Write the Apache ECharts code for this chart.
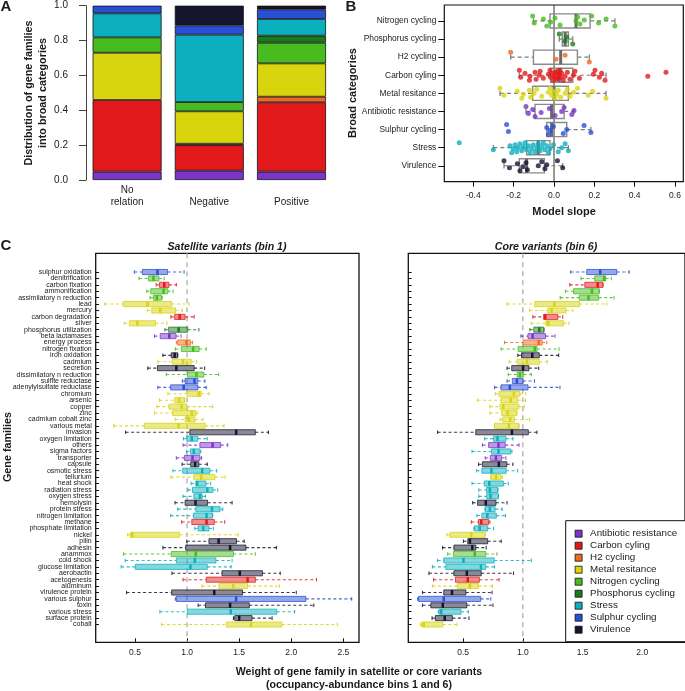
<!DOCTYPE html>
<html><head><meta charset="utf-8">
<script src="https://cdn.jsdelivr.net/npm/echarts@6/dist/echarts.min.js"></script>
<style>html,body{margin:0;padding:0;background:#fff}#c{width:685px;height:691px}</style>
</head><body><div id="c"></div>
<script>
const FONT = '"Liberation Sans", Arial, Helvetica, sans-serif';

// ---------- shared categories ----------
const broadCats = ['Antibiotic resistance','Carbon cyling','H2 cycling','Metal resitance','Nitrogen cycling','Phosphorus cycling','Stress','Sulphur cycling','Virulence'];
const catColors = ['#7B35C9','#E2191B','#EE6A1E','#D8D40E','#47BB1F','#1C7A1C','#0BAFBE','#2B4FD4','#16152F'];

// ---------- Panel A ----------
const relationCats = ['No\nrelation','\nNegative','\nPositive'];
const shareAntibiotic = [0.048,0.054,0.048];
const shareCarbon     = [0.411,0.146,0.398];
const shareH2         = [null,0.008,0.032];
const shareMetal      = [0.271,0.186,0.191];
const shareNitrogen   = [0.088,0.053,0.119];
const sharePhosphorus = [null,null,0.040];
const shareStress     = [0.138,0.387,0.096];
const shareSulphur    = [0.044,0.053,0.055];
const shareVirulence  = [null,0.113,0.021];
const shareSeries = [shareAntibiotic,shareCarbon,shareH2,shareMetal,shareNitrogen,sharePhosphorus,shareStress,shareSulphur,shareVirulence];

// ---------- Panel B ----------
const slopeCats = ['Nitrogen cycling','Phosphorus cycling','H2 cycling','Carbon cyling','Metal resitance','Antibiotic resistance','Sulphur cycling','Stress','Virulence'];
const slopeCatColorIdx = [4,5,2,1,3,0,7,6,8];
const slopeLow  = [-0.102,0.026,-0.215,-0.172,-0.268,-0.139,-0.036,-0.301,-0.248];
const slopeQ1   = [-0.020,0.041,-0.102,-0.017,-0.106,-0.094,-0.036,-0.136,-0.172];
const slopeMed  = [0.109,0.055,0.033,0.026,0.000,-0.012,-0.012,-0.078,-0.136];
const slopeQ3   = [0.179,0.071,0.116,0.093,0.071,0.050,0.063,-0.020,-0.048];
const slopeHigh = [0.302,0.093,0.175,0.258,0.258,0.099,0.183,0.071,0.043];
const slopesNitrogen = [-0.106,-0.098,-0.053,-0.036,-0.017,0.005,0.030,0.109,0.117,0.129,0.150,0.187,0.221,0.258,0.302];
const slopesPhosphorus = [0.026,0.055,0.063,0.093];
const slopesH2 = [-0.215,0.010,0.055,0.175];
const slopesCarbon = [-0.172,-0.165,-0.144,-0.122,-0.119,-0.094,-0.089,-0.073,-0.069,-0.053,-0.028,-0.020,-0.017,-0.012,-0.003,0.000,0.005,0.010,0.013,0.017,0.021,0.026,0.030,0.033,0.038,0.046,0.055,0.066,0.079,0.096,0.104,0.126,0.195,0.203,0.225,0.236,0.253,0.465,0.555];
const slopesMetal = [-0.268,-0.248,-0.182,-0.160,-0.152,-0.122,-0.116,-0.099,-0.086,-0.061,-0.028,-0.020,-0.012,-0.003,0.005,0.013,0.021,0.033,0.055,0.066,0.079,0.096,0.116,0.170,0.192,0.258];
const slopesAntibiotic = [-0.139,-0.127,-0.106,-0.094,-0.064,-0.023,0.005,0.038,0.050,0.088,0.099];
const slopesSulphur = [-0.235,-0.226,-0.036,-0.028,-0.020,-0.003,0.046,0.063,0.149,0.183];
const slopesStress = [-0.470,-0.301,-0.218,-0.210,-0.202,-0.193,-0.185,-0.177,-0.169,-0.160,-0.152,-0.144,-0.136,-0.127,-0.119,-0.111,-0.103,-0.094,-0.086,-0.078,-0.069,-0.061,-0.053,-0.045,-0.036,-0.028,-0.020,-0.003,0.021,0.038,0.055,0.071];
const slopesVirulence = [-0.248,-0.221,-0.182,-0.169,-0.155,-0.139,-0.132,-0.078,-0.061,-0.045,-0.036,0.017,0.043];
const slopePoints = [slopesNitrogen,slopesPhosphorus,slopesH2,slopesCarbon,slopesMetal,slopesAntibiotic,slopesSulphur,slopesStress,slopesVirulence];
const slopeTicks = [-0.4,-0.2,0,0.2,0.4,0.6];

// ---------- Panel C ----------
const geneFamilies = ['sulphur oxidation','denitrification','carbon fixation','ammonification','assimilatory n reduction','lead','mercury','carbon degradation','silver','phosphorus utilization','beta lactamases','energy process','nitrogen fixation','iron oxidation','cadmium','secretion','dissimilatory n reduction','sulfite reductase','adenylylsulfate reductase','chromium','arsenic','copper','zinc','cadmium cobalt zinc','various metal','invasion','oxygen limitation','others','sigma factors','transporter','capsule','osmotic stress','tellurium','heat shock','radiation stress','oxygen stress','hemolysin','protein stress','nitrogen limitation','methane','phosphate limitation','nickel','pilin','adhesin','anammox','cold shock','glucose limitation','aerobactin','acetogenesis','aluminum','virulence protein','various sulphur','toxin','various stress','surface protein','cobalt'];
const geneCategory = [7,4,1,4,4,3,3,1,3,5,0,2,4,8,3,8,4,7,7,3,3,3,3,3,3,8,6,0,6,0,8,6,3,6,6,6,8,6,6,1,6,3,8,8,4,6,6,8,1,3,8,7,8,6,8,3];
const satLow  = [0.494,0.539,0.703,0.613,0.645,0.210,0.619,0.845,0.397,0.787,0.687,0.897,0.887,0.768,0.719,0.623,0.800,0.955,0.719,0.816,0.735,0.710,0.687,0.887,0.297,0.410,0.965,0.961,0.994,0.897,0.952,0.865,0.845,1.039,1.010,0.961,0.884,0.910,0.842,0.948,1.074,0.429,0.997,0.768,0.390,0.406,0.368,0.855,0.961,1.142,0.419,0.887,1.106,0.739,1.445,0.755];
const satQ1   = [0.571,0.629,0.735,0.652,0.677,0.387,0.661,0.881,0.445,0.823,0.742,0.910,0.945,0.848,0.858,0.716,1.003,0.981,0.842,1.000,0.881,0.826,0.861,0.981,0.590,1.026,0.997,1.123,1.032,0.974,1.035,0.958,1.065,1.084,1.052,1.065,0.981,1.084,1.061,1.045,1.106,0.455,1.210,0.987,0.848,0.897,0.503,1.335,1.184,1.306,0.852,0.897,1.177,1.003,1.458,1.377];
const satMed  = [0.716,0.677,0.781,0.774,0.710,0.619,0.742,0.929,0.523,0.919,0.829,0.994,1.058,0.881,0.961,0.897,1.090,1.071,0.968,1.113,0.923,0.948,1.045,1.019,0.919,1.471,1.045,1.245,1.065,1.052,1.077,1.145,1.135,1.097,1.194,1.123,1.081,1.239,1.187,1.187,1.155,0.474,1.303,1.413,1.084,1.074,1.032,1.506,1.581,1.442,1.261,1.471,1.413,1.419,1.500,1.613];
const satQ3   = [0.813,0.729,0.826,0.816,0.755,0.852,0.890,0.981,0.697,1.006,0.894,1.032,1.116,0.910,1.039,1.068,1.161,1.103,1.103,1.135,0.977,1.000,1.084,1.077,1.174,1.655,1.103,1.323,1.123,1.123,1.113,1.219,1.268,1.181,1.248,1.145,1.197,1.316,1.245,1.261,1.210,0.929,1.474,1.565,1.445,1.277,1.194,1.723,1.655,1.581,1.532,2.140,1.597,1.861,1.623,1.910];
const satHigh = [0.971,0.781,0.897,0.865,0.761,1.019,0.955,1.068,0.806,1.113,0.942,1.052,1.184,0.910,1.090,1.168,1.303,1.171,1.184,1.210,0.977,1.245,1.097,1.152,1.355,1.781,1.194,1.390,1.132,1.139,1.194,1.284,1.365,1.226,1.294,1.177,1.432,1.342,1.245,1.361,1.252,1.490,1.548,1.858,1.655,1.432,1.423,1.894,2.242,1.887,2.048,2.580,2.216,2.032,1.816,2.442];
const coreLow  = [1.401,1.488,1.393,1.357,1.313,0.868,1.056,1.084,1.071,1.059,0.984,0.847,0.819,0.958,0.886,0.868,0.878,0.868,0.763,0.770,0.621,0.724,0.724,0.809,0.763,0.286,0.680,0.662,0.575,0.685,0.629,0.613,0.732,0.575,0.631,0.631,0.580,0.685,0.616,0.569,0.590,0.364,0.503,0.328,0.371,0.286,0.243,0.214,0.253,0.243,0.160,0.119,0.160,0.292,0.240,0.142];
const coreQ1   = [1.535,1.602,1.519,1.424,1.473,1.100,1.208,1.174,1.192,1.092,1.043,1.002,0.961,0.989,0.953,0.907,0.953,0.912,0.817,0.801,0.817,0.809,0.822,0.832,0.763,0.606,0.755,0.714,0.737,0.727,0.662,0.657,0.732,0.678,0.696,0.698,0.621,0.685,0.657,0.629,0.595,0.389,0.539,0.423,0.418,0.338,0.356,0.423,0.436,0.451,0.338,0.127,0.230,0.299,0.268,0.153];
const coreMed  = [1.648,1.681,1.627,1.579,1.550,1.264,1.241,1.187,1.213,1.138,1.082,1.133,1.100,1.079,1.035,1.002,0.976,0.950,0.891,0.925,0.899,0.837,0.873,0.894,0.884,0.909,0.788,0.796,0.796,0.775,0.799,0.737,0.775,0.719,0.724,0.729,0.690,0.724,0.703,0.652,0.639,0.569,0.557,0.577,0.598,0.503,0.649,0.531,0.539,0.557,0.407,0.338,0.330,0.317,0.346,0.171];
const coreQ3   = [1.787,1.694,1.671,1.640,1.635,1.476,1.362,1.293,1.342,1.177,1.190,1.162,1.120,1.138,1.138,1.051,1.007,1.002,1.043,0.976,0.958,0.966,0.950,0.930,0.968,1.046,0.858,0.853,0.899,0.822,0.866,0.860,0.817,0.837,0.791,0.796,0.775,0.768,0.778,0.714,0.706,0.685,0.706,0.606,0.690,0.760,0.690,0.652,0.636,0.629,0.523,0.647,0.531,0.482,0.410,0.330];
const coreHigh = [1.890,1.741,1.671,1.640,1.764,1.702,1.419,1.334,1.385,1.177,1.270,1.200,1.303,1.300,1.205,1.133,1.071,1.097,1.311,1.025,1.023,1.012,0.950,1.056,0.968,1.118,0.917,0.968,0.909,0.858,0.917,0.956,0.829,0.878,0.791,0.796,0.868,0.827,0.855,0.724,0.755,0.685,0.819,0.693,0.783,1.071,0.763,0.922,0.801,0.745,0.742,0.732,0.750,0.544,0.549,0.449];
const satTicks = [0.5,1.0,1.5,2.0,2.5];
const coreTicks = [0.5,1.0,1.5,2.0];

// ---------- build ----------
const rowIdx = geneFamilies.map((_, i) => i);
const rowEven = rowIdx.filter(i => i % 2 === 0);
const rowOdd = rowIdx.filter(i => i % 2 === 1);
const slopeIdx = slopeCats.map((_, i) => i);

function jitter(i) { return (((i * 7) % 11) / 10 - 0.5) * 0.55; }

function geneBoxRender(params, api) {
  const row = api.value(0);
  const col = catColors[api.value(6)];
  const rowH = Math.abs(api.size([0, 1])[1]);
  const pLo = api.coord([api.value(1), row]);
  const pQ1 = api.coord([api.value(2), row]);
  const pMd = api.coord([api.value(3), row]);
  const pQ3 = api.coord([api.value(4), row]);
  const pHi = api.coord([api.value(5), row]);
  const y = pLo[1];
  const bh = rowH * 0.8, ch = rowH * 0.55;
  const wcol = echarts.color.modifyAlpha(col, 0.85);
  const fill = echarts.color.modifyAlpha(col, 0.5);
  const stroke = echarts.color.modifyAlpha(col, 0.75);
  return { type: 'group', children: [
    { type: 'line', shape: { x1: pLo[0], y1: y, x2: pQ1[0], y2: y }, style: { stroke: wcol, lineWidth: 1.1, lineDash: [3, 2.5] } },
    { type: 'line', shape: { x1: pQ3[0], y1: y, x2: pHi[0], y2: y }, style: { stroke: wcol, lineWidth: 1.1, lineDash: [3, 2.5] } },
    { type: 'line', shape: { x1: pLo[0], y1: y - ch / 2, x2: pLo[0], y2: y + ch / 2 }, style: { stroke: wcol, lineWidth: 1.1 } },
    { type: 'line', shape: { x1: pHi[0], y1: y - ch / 2, x2: pHi[0], y2: y + ch / 2 }, style: { stroke: wcol, lineWidth: 1.1 } },
    { type: 'rect', shape: { x: pQ1[0], y: y - bh / 2, width: pQ3[0] - pQ1[0], height: bh }, style: { fill: fill, stroke: stroke, lineWidth: 1 } },
    { type: 'line', shape: { x1: pMd[0], y1: y - bh / 2, x2: pMd[0], y2: y + bh / 2 }, style: { stroke: col, lineWidth: 2.5 } }
  ]};
}

function slopeBoxRender(params, api) {
  const row = api.value(0);
  const rowH = Math.abs(api.size([0, 1])[1]);
  const pLo = api.coord([api.value(1), row]);
  const pQ1 = api.coord([api.value(2), row]);
  const pMd = api.coord([api.value(3), row]);
  const pQ3 = api.coord([api.value(4), row]);
  const pHi = api.coord([api.value(5), row]);
  const y = pLo[1];
  const bh = rowH * 0.78, ch = rowH * 0.3;
  const g = '#7a7a7a';
  return { type: 'group', children: [
    { type: 'line', shape: { x1: pLo[0], y1: y, x2: pQ1[0], y2: y }, style: { stroke: g, lineWidth: 1.2, lineDash: [4, 3] } },
    { type: 'line', shape: { x1: pQ3[0], y1: y, x2: pHi[0], y2: y }, style: { stroke: g, lineWidth: 1.2, lineDash: [4, 3] } },
    { type: 'line', shape: { x1: pLo[0], y1: y - ch / 2, x2: pLo[0], y2: y + ch / 2 }, style: { stroke: g, lineWidth: 1.2 } },
    { type: 'line', shape: { x1: pHi[0], y1: y - ch / 2, x2: pHi[0], y2: y + ch / 2 }, style: { stroke: g, lineWidth: 1.2 } },
    { type: 'rect', shape: { x: pQ1[0], y: y - bh / 2, width: pQ3[0] - pQ1[0], height: bh }, style: { fill: 'rgba(255,255,255,0)', stroke: '#8a8a8a', lineWidth: 1.4 } },
    { type: 'line', shape: { x1: pMd[0], y1: y - bh / 2, x2: pMd[0], y2: y + bh / 2 }, style: { stroke: '#6a6a6a', lineWidth: 3 } }
  ]};
}

const slopeBoxData = slopeIdx.map(i => [i, slopeLow[i], slopeQ1[i], slopeMed[i], slopeQ3[i], slopeHigh[i]]);
const slopePointData = [];
slopePoints.forEach((arr, r) => {
  arr.forEach((v, k) => {
    slopePointData.push({ value: [v, r + jitter(k)], itemStyle: { color: catColors[slopeCatColorIdx[r]] } });
  });
});
const satData = rowIdx.map(i => [i, satLow[i], satQ1[i], satMed[i], satQ3[i], satHigh[i], geneCategory[i]]);
const coreData = rowIdx.map(i => [i, coreLow[i], coreQ1[i], coreMed[i], coreQ3[i], coreHigh[i], geneCategory[i]]);

const txt = '#1a1a1a';
const fmt1 = v => (Math.abs(v) < 1e-9 ? 0 : v).toFixed(1);

const series = [];
broadCats.forEach((name, i) => {
  series.push({
    name: name, type: 'bar', stack: 'share', xAxisIndex: 0, yAxisIndex: 0,
    barWidth: 69, data: shareSeries[i],
    itemStyle: { color: catColors[i], borderColor: '#111', borderWidth: 0.8 },
    emphasis: { disabled: true }, animation: false
  });
});
series.push({
  name: 'zero', type: 'line', xAxisIndex: 1, yAxisIndex: 1, data: [[0, -0.88], [0, 8.88]],
  symbol: 'none', lineStyle: { color: '#333', width: 1 }, z: 1, silent: true, animation: false
});
series.push({
  name: 'slopeBox', type: 'custom', xAxisIndex: 1, yAxisIndex: 1, data: slopeBoxData,
  renderItem: slopeBoxRender, z: 2, silent: true, animation: false
});
series.push({
  name: 'slopePts', type: 'scatter', xAxisIndex: 1, yAxisIndex: 1, data: slopePointData,
  symbolSize: 5, z: 3, silent: true, animation: false
});
series.push({
  name: 'ref1', type: 'line', xAxisIndex: 2, yAxisIndex: 2, data: [[1, -2.92], [1, 57.77]],
  symbol: 'none', lineStyle: { color: '#a8a8a8', width: 1.2, type: [5, 4] }, z: 1, silent: true, animation: false
});
series.push({
  name: 'ref2', type: 'line', xAxisIndex: 3, yAxisIndex: 3, data: [[1, -2.92], [1, 57.77]],
  symbol: 'none', lineStyle: { color: '#a8a8a8', width: 1.2, type: [5, 4] }, z: 1, silent: true, animation: false
});
series.push({
  name: 'satBox', type: 'custom', xAxisIndex: 2, yAxisIndex: 2, data: satData,
  renderItem: geneBoxRender, z: 2, silent: true, animation: false
});
series.push({
  name: 'coreBox', type: 'custom', xAxisIndex: 3, yAxisIndex: 3, data: coreData,
  renderItem: geneBoxRender, z: 2, silent: true, animation: false
});

function gtext(x, y, text, font, opts) {
  return Object.assign({
    type: 'text', x: x, y: y, silent: true,
    style: { text: text, font: font, fill: txt, align: 'center', verticalAlign: 'middle', textAlign: 'center', textVerticalAlign: 'middle', lineHeight: 13.5 }
  }, opts || {});
}

const noLine = { show: false, onZero: false };
const geneLabel = (vals) => ({ customValues: vals, formatter: v => geneFamilies[Math.round(v)] || '', fontSize: 7, color: txt, margin: 4, fontFamily: FONT, showMinLabel: true, showMaxLabel: true, hideOverlap: false });

const option = {
  animation: false,
  textStyle: { fontFamily: FONT },
  grid: [
    { left: 86, top: 5.7, width: 246.6, height: 174.3 },
    { left: 444.3, top: 5, width: 239, height: 176.7, show: true, borderColor: '#111', borderWidth: 1.2, backgroundColor: 'transparent' },
    { left: 95.7, top: 253.3, width: 263.3, height: 389, show: true, borderColor: '#111', borderWidth: 1.3, backgroundColor: 'transparent' },
    { left: 408.3, top: 253.3, width: 300, height: 389, show: true, borderColor: '#111', borderWidth: 1.3, backgroundColor: 'transparent' }
  ],
  xAxis: [
    { gridIndex: 0, type: 'category', data: relationCats, axisLine: noLine, axisTick: { show: false },
      axisLabel: { fontSize: 10, lineHeight: 12, color: txt, margin: 4, fontFamily: FONT } },
    { gridIndex: 1, type: 'value', min: -0.544, max: 0.641, position: 'bottom', axisLine: noLine, splitLine: { show: false },
      axisTick: { show: true, customValues: slopeTicks, length: 5, lineStyle: { color: '#111' } },
      axisLabel: { customValues: slopeTicks, formatter: fmt1, fontSize: 8.5, color: txt, margin: 9, fontFamily: FONT } },
    { gridIndex: 2, type: 'value', min: 0.123, max: 2.650, position: 'bottom', axisLine: noLine, splitLine: { show: false },
      axisTick: { show: true, inside: true, customValues: satTicks, length: 4, lineStyle: { color: '#111' } },
      axisLabel: { customValues: satTicks, formatter: fmt1, fontSize: 8.5, color: txt, margin: 6, fontFamily: FONT } },
    { gridIndex: 3, type: 'value', min: 0.041, max: 2.358, position: 'bottom', axisLine: noLine, splitLine: { show: false },
      axisTick: { show: true, inside: true, customValues: coreTicks, length: 4, lineStyle: { color: '#111' } },
      axisLabel: { customValues: coreTicks, formatter: fmt1, fontSize: 8.5, color: txt, margin: 6, fontFamily: FONT } }
  ],
  yAxis: [
    { gridIndex: 0, type: 'value', min: 0, max: 1, interval: 0.2, splitLine: { show: false },
      axisLine: { show: true, onZero: false, lineStyle: { color: '#444', width: 1 } },
      axisTick: { show: true, length: 7, lineStyle: { color: '#444' } },
      axisLabel: { formatter: fmt1, fontSize: 10, color: txt, margin: 18, fontFamily: FONT } },
    { gridIndex: 1, type: 'value', inverse: true, min: -0.88, max: 8.88, position: 'left', splitLine: { show: false }, axisLine: noLine,
      axisTick: { show: true, customValues: slopeIdx, length: 6, lineStyle: { color: '#111' } },
      axisLabel: { customValues: slopeIdx, formatter: v => slopeCats[Math.round(v)] || '', fontSize: 8.4, color: txt, margin: 8, fontFamily: FONT } },
    { gridIndex: 2, type: 'value', inverse: true, min: -2.92, max: 57.77, position: 'left', offset: 0, splitLine: { show: false }, axisLine: noLine,
      axisTick: { show: true, inside: true, customValues: rowIdx, length: 3.3, lineStyle: { color: '#111' } },
      axisLabel: geneLabel(rowEven) },
    { gridIndex: 3, type: 'value', inverse: true, min: -2.92, max: 57.77, position: 'left', splitLine: { show: false }, axisLine: noLine,
      axisTick: { show: true, inside: true, customValues: rowIdx, length: 3.3, lineStyle: { color: '#111' } },
      axisLabel: { show: false } },
    { gridIndex: 2, type: 'value', inverse: true, min: -2.92, max: 57.77, position: 'left', offset: 0, splitLine: { show: false }, axisLine: noLine,
      axisTick: { show: false },
      axisLabel: geneLabel(rowOdd) }
  ],
  legend: {
    data: broadCats, orient: 'vertical', left: 565.7, top: 520.7, selectedMode: false,
    backgroundColor: '#fff', borderColor: '#111', borderWidth: 1,
    padding: [7, 40, 6, 9], itemGap: 0, itemWidth: 7, itemHeight: 7, icon: 'rect',
    itemStyle: { borderColor: '#111', borderWidth: 0.8 },
    textStyle: { fontSize: 9.8, fontFamily: FONT, color: txt, lineHeight: 12, padding: [0, 0, 0, 3] }
  },
  graphic: [
    gtext(6, 7, 'A', 'bold 15px ' + FONT),
    gtext(351, 7, 'B', 'bold 15px ' + FONT),
    gtext(6, 246, 'C', 'bold 15px ' + FONT),
    gtext(36, 93, 'Distribution of gene families\ninto broad categories', 'bold 10.8px ' + FONT, { rotation: Math.PI / 2 }),
    gtext(353, 93, 'Broad categories', 'bold 11px ' + FONT, { rotation: Math.PI / 2 }),
    gtext(564, 212, 'Model slope', 'bold 11px ' + FONT),
    gtext(227, 247, 'Satellite variants (bin 1)', 'italic bold 10.6px ' + FONT),
    gtext(546, 247, 'Core variants (bin 6)', 'italic bold 10.6px ' + FONT),
    gtext(8, 447, 'Gene families', 'bold 10.8px ' + FONT, { rotation: Math.PI / 2 }),
    gtext(359, 678.5, 'Weight of gene family in satellite or core variants\n(occupancy-abundance bins 1 and 6)', 'bold 10.6px ' + FONT)
  ],
  series: series
};

const chart = echarts.init(document.getElementById('c'), null, { renderer: 'canvas' });
chart.setOption(option);
</script>
</body></html>
